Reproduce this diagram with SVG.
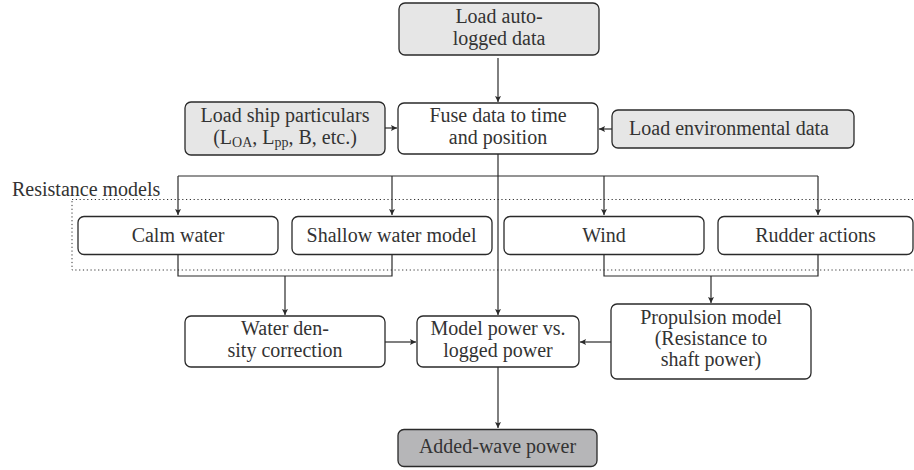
<svg xmlns="http://www.w3.org/2000/svg" width="914" height="470" viewBox="0 0 914 470">
<defs>
<marker id="arr" markerUnits="userSpaceOnUse" markerWidth="8" markerHeight="8" refX="6" refY="3" orient="auto">
<path d="M0,0 L6,3 L0,6 L1.2,3 z" fill="#2a2a2a"/>
</marker>
<style>
.box{fill:#fff;stroke:#2a2a2a;stroke-width:1.3}
.lt{fill:#e6e6e6}
.dk{fill:#b6b6b8}
.t{font-size:20px;fill:#333;text-anchor:middle}
.c{fill:none;stroke:#2a2a2a;stroke-width:1.2}
.a{marker-end:url(#arr)}
.sub{font-size:14px}
</style>
</defs>
<rect width="914" height="470" fill="#fff"/>

<g id="resistance-group">
<rect x="72" y="199.5" width="860" height="70.5" fill="none" stroke="#333" stroke-width="1" stroke-dasharray="1.2 2.6"/>
<text x="12" y="196" class="t" font-family="Liberation Serif, serif" style="text-anchor:start">Resistance models</text>
</g>

<g id="connectors">
<path class="c a" d="M498,58 V102"/>
<path class="c a" d="M385,128 H397"/>
<path class="c a" d="M612,129 H599"/>
<path class="c a" d="M498,154 V315"/>
<path class="c" d="M178,176 H818"/>
<path class="c a" d="M178,176 V215"/>
<path class="c a" d="M392,176 V215"/>
<path class="c a" d="M604,176 V215"/>
<path class="c a" d="M818,176 V215"/>
<path class="c" d="M178,254 V276 H392 V254"/>
<path class="c a" d="M285,276 V315"/>
<path class="c" d="M604,254 V276 H818 V254"/>
<path class="c a" d="M711,276 V303"/>
<path class="c a" d="M385,342 H416"/>
<path class="c a" d="M611,342 H580"/>
<path class="c a" d="M498,367 V428"/>
</g>

<g id="load-auto">
<rect class="box lt" x="399" y="3" width="200" height="52" rx="6"/>
<text class="t" x="499" y="23" font-family="Liberation Serif, serif"><tspan>Load auto-</tspan></text>
<text class="t" x="499" y="45" font-family="Liberation Serif, serif"><tspan>logged data</tspan></text>
</g>

<g id="load-ship">
<rect class="box lt" x="185" y="102" width="200" height="53" rx="6"/>
<text x="285" y="122" font-family="Liberation Serif, Times New Roman, serif" font-size="20" fill="#333" text-anchor="middle">Load ship particulars</text>
<text class="t" x="285" y="144" font-family="Liberation Serif, serif">(L<tspan class="sub" dy="3">OA</tspan><tspan dy="-3">, L</tspan><tspan class="sub" dy="3">pp</tspan><tspan dy="-3">, B, etc.)</tspan></text>
</g>

<g id="fuse">
<rect class="box" x="398" y="103" width="200" height="51" rx="6"/>
<text class="t" x="498" y="122" font-family="Liberation Serif, serif"><tspan>Fuse data to time</tspan></text>
<text class="t" x="498" y="144" font-family="Liberation Serif, serif"><tspan>and position</tspan></text>
</g>

<g id="load-env">
<rect class="box lt" x="612" y="110" width="242" height="38" rx="6"/>
<text x="729" y="135" font-family="Liberation Serif, Times New Roman, serif" font-size="20" fill="#333" text-anchor="middle">Load environmental data</text>
</g>

<g id="calm">
<rect class="box" x="78" y="216.5" width="200" height="38" rx="6"/>
<text class="t" x="178" y="242" font-family="Liberation Serif, serif"><tspan>Calm water</tspan></text>
</g>

<g id="shallow">
<rect class="box" x="292" y="216.5" width="200" height="38" rx="6"/>
<text x="391.5" y="242" font-family="Liberation Serif, Times New Roman, serif" font-size="20" fill="#333" text-anchor="middle">Shallow water model</text>
</g>

<g id="wind">
<rect class="box" x="504" y="216.5" width="200" height="38" rx="6"/>
<text class="t" x="604" y="242" font-family="Liberation Serif, serif"><tspan>Wind</tspan></text>
</g>

<g id="rudder">
<rect class="box" x="718" y="216.5" width="195" height="38" rx="6"/>
<text x="815.5" y="242" font-family="Liberation Serif, Times New Roman, serif" font-size="20" fill="#333" text-anchor="middle">Rudder actions</text>
</g>

<g id="water-density">
<rect class="box" x="185" y="316" width="200" height="51" rx="6"/>
<text class="t" x="285" y="335" font-family="Liberation Serif, serif"><tspan>Water den-</tspan></text>
<text class="t" x="285" y="357" font-family="Liberation Serif, serif"><tspan>sity correction</tspan></text>
</g>

<g id="model-power">
<rect class="box" x="417" y="316" width="162" height="51" rx="6"/>
<text x="498" y="335" font-family="Liberation Serif, Times New Roman, serif" font-size="20" fill="#333" text-anchor="middle">Model power vs.</text>
<text x="498" y="357" font-family="Liberation Serif, Times New Roman, serif" font-size="20" fill="#333" text-anchor="middle">logged power</text>
</g>

<g id="propulsion">
<rect class="box" x="611" y="304" width="200" height="75" rx="6"/>
<text class="t" x="711" y="323.5" font-family="Liberation Serif, serif"><tspan>Propulsion model</tspan></text>
<text class="t" x="711" y="345" font-family="Liberation Serif, serif"><tspan>(Resistance to</tspan></text>
<text class="t" x="711" y="366" font-family="Liberation Serif, serif"><tspan>shaft power)</tspan></text>
</g>

<g id="added-wave">
<rect class="box dk" x="398" y="429.5" width="199" height="37" rx="6"/>
<text x="497.5" y="453" font-family="Liberation Serif, Times New Roman, serif" font-size="20" fill="#333" text-anchor="middle">Added-wave power</text>
</g>
</svg>
